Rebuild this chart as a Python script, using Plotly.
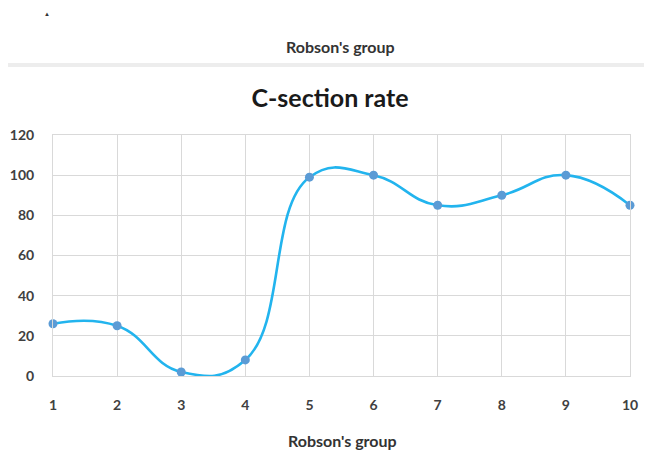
import plotly.graph_objects as go

groups = [1, 2, 3, 4, 5, 6, 7, 8, 9, 10]
cs_rate = [26, 25, 2, 8, 99, 100, 85, 90, 100, 85]
y_ticks = [0, 20, 40, 60, 80, 100, 120]

FONT = "Lato, 'Open Sans', sans-serif"

# page body has an 8px default margin: figure sits at (8, 8)
OFF = 8
W, H = 644, 451
L, R, T, B = 53 - OFF, W + OFF - 630, 135 - OFF, H + OFF - 376
PW, PH = W - L - R, H - T - B


def px_x(x):
    return (x - OFF - L) / PW


def px_y(y):
    return (H + OFF - B - y) / PH


fig = go.Figure()
fig.add_trace(go.Scatter(
    x=groups, y=cs_rate, mode="lines+markers",
    line=dict(color="#22B4EE", width=2.6, shape="spline", smoothing=1.3),
    marker=dict(color="#5B9BD5", size=9),
    cliponaxis=False, showlegend=False,
))

fig.update_layout(
    width=W, height=H,
    margin=dict(l=L, r=R, t=T, b=B),
    paper_bgcolor="white", plot_bgcolor="white",
    font=dict(family=FONT, color="#404040"),
    title=dict(text="<b>C-section rate</b>", x=(330 - OFF) / W, xanchor="center",
               y=1 - (98 - OFF) / H, yanchor="middle",
               font=dict(size=25, color="#1a1a1a", family=FONT)),
)
fig.update_xaxes(
    range=[1, 10], tickvals=groups, ticktext=[str(g) for g in groups],
    showgrid=True, gridcolor="#D9D9D9", gridwidth=1,
    showline=True, linecolor="#D9D9D9", linewidth=1, mirror=True,
    zeroline=False, automargin=False,
    ticks="outside", ticklen=16, tickcolor="rgba(0,0,0,0)",
    tickfont=dict(size=14, color="#404040", family=FONT, weight="bold"),
)
fig.update_yaxes(
    range=[0, 120], tickvals=y_ticks,
    showgrid=True, gridcolor="#D9D9D9", gridwidth=1,
    showline=True, linecolor="#D9D9D9", linewidth=1, mirror=True,
    zeroline=False, automargin=False,
    ticks="outside", ticklen=15, tickcolor="rgba(0,0,0,0)",
    tickfont=dict(size=14, color="#404040", family=FONT, weight="bold"),
)

# x-axis title
fig.add_annotation(text="<b>Robson's group</b>", xref="paper", yref="paper",
                   x=px_x(342), y=px_y(440), yanchor="middle", showarrow=False,
                   font=dict(size=16, color="#333333", family=FONT))
# Remnant of the previous chart above (axis title + separator)
fig.add_annotation(text="<b>Robson's group</b>", xref="paper", yref="paper",
                   x=px_x(340), y=px_y(46), yanchor="middle", showarrow=False,
                   font=dict(size=16, color="#333333", family=FONT))
fig.add_annotation(text="▲", xref="paper", yref="paper",
                   x=px_x(47), y=px_y(9), xanchor="center", yanchor="top",
                   borderpad=0, showarrow=False,
                   font=dict(size=6, color="#333333", family=FONT))
fig.add_shape(type="rect", xref="paper", yref="paper",
              x0=px_x(0), x1=px_x(660),
              y0=px_y(67), y1=px_y(63),
              line=dict(width=0), fillcolor="#EDEDED")

fig.write_html("out.html")
